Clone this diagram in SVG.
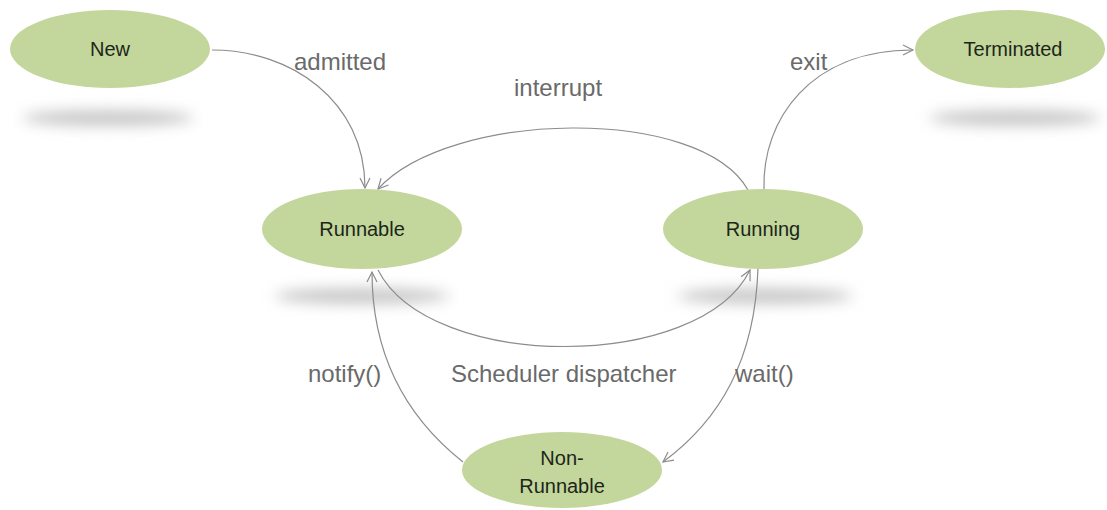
<svg xmlns="http://www.w3.org/2000/svg" width="1107" height="510" viewBox="0 0 1107 510">
<style>
.node{fill:#c3d69b}
.shadow{fill:#c8c8c8;filter:url(#blur)}
.ntext{font-family:"Liberation Sans",Arial,sans-serif;font-size:20px;fill:#1c261a;text-anchor:middle}
.label{font-family:"Liberation Sans",Arial,sans-serif;font-size:24px;fill:#6a6a6a}
.edge{fill:none;stroke:#8c8c8c;stroke-width:1.2;marker-end:url(#arr)}
</style>
<defs>
<filter id="blur" x="-30%" y="-300%" width="160%" height="700%"><feGaussianBlur stdDeviation="7"/></filter>
<marker id="arr" markerWidth="14" markerHeight="14" refX="11" refY="6" orient="auto" markerUnits="userSpaceOnUse">
<path d="M1,1 L11,6 L1,11" fill="none" stroke="#8c8c8c" stroke-width="1.2"/>
</marker>
</defs>
<rect width="1107" height="510" fill="#ffffff"/>
<g id="shadows">
<ellipse class="shadow" cx="108" cy="118" rx="86" ry="8"/>
<ellipse class="shadow" cx="1015" cy="118" rx="86" ry="8"/>
<ellipse class="shadow" cx="362" cy="296" rx="88" ry="8"/>
<ellipse class="shadow" cx="765" cy="296" rx="88" ry="8"/>
</g>
<g id="connectors">
<path class="edge" d="M212 50 C290 50 365 100 365 188"/>
<path class="edge" d="M748 190 C700 105 450 110 378 189"/>
<path class="edge" d="M764 189 C762 120 810 50 913 50"/>
<path class="edge" d="M378 270 C430 372 700 372 750 270"/>
<path class="edge" d="M758 268 C755 360 720 420 663 462"/>
<path class="edge" d="M463 462 C410 420 372 360 372 272"/>
</g>
<g id="labels">
<text class="label" x="294" y="70">admitted</text>
<text class="label" x="514" y="96">interrupt</text>
<text class="label" x="790" y="70">exit</text>
<text class="label" x="451" y="382">Scheduler dispatcher</text>
<text class="label" x="735" y="382">wait()</text>
<text class="label" x="308" y="382">notify()</text>
</g>
<g id="node-new">
<ellipse class="node" cx="110" cy="49" rx="100" ry="39"/>
<text class="ntext" x="110" y="56">New</text>
</g>
<g id="node-terminated">
<ellipse class="node" cx="1010" cy="49" rx="95" ry="39"/>
<text class="ntext" x="1013" y="56">Terminated</text>
</g>
<g id="node-runnable">
<ellipse class="node" cx="362" cy="229" rx="100" ry="40"/>
<text class="ntext" x="362" y="236">Runnable</text>
</g>
<g id="node-running">
<ellipse class="node" cx="763" cy="229" rx="100" ry="40"/>
<text class="ntext" x="763" y="236">Running</text>
</g>
<g id="node-nonrunnable">
<ellipse class="node" cx="562" cy="470" rx="100" ry="38"/>
<text class="ntext" x="562" y="465">Non-</text>
<text class="ntext" x="562" y="493">Runnable</text>
</g>
</svg>
